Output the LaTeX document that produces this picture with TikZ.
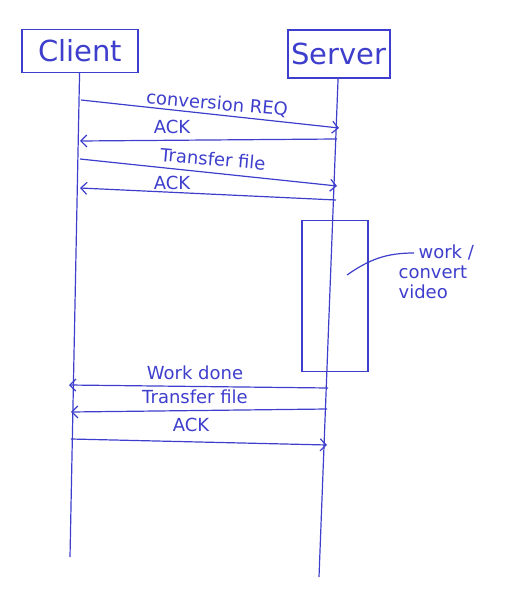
\documentclass[tikz,border=0pt]{standalone}
\usepackage{fontspec}
\setmainfont{DejaVu Sans}
\usetikzlibrary{arrows.meta}
\definecolor{pen}{RGB}{62,62,205}

\begin{document}
\begin{tikzpicture}[x=1pt, y=-1pt, line width=1.2pt, draw=pen, text=pen,
    actor/.style={draw, inner sep=0pt, font=\fontsize{29}{31}\selectfont},
    msg/.style={-{Straight Barb[length=6pt,width=12pt]}},
    lbl/.style={inner sep=0pt, font=\fontsize{18}{20}\selectfont}]
    \useasboundingbox (0,0) rectangle (510,601);
    \node[actor, minimum width=116, minimum height=43] (client) at (80,51) {Client};
    \node[actor, minimum width=102, minimum height=48] (server) at (339,54) {Server};
    \coordinate (cend) at (70,557);
    \coordinate (send) at (319,577);
    \draw (client) -- (cend);
    \draw (server) -- (send);
    \coordinate (c1) at (81,100);
    \coordinate (s1) at (339,128);
    \draw[msg] (c1) -- (s1);
    \node[lbl, rotate=-5] (req) at (217,104) {conversion REQ};
    \coordinate (s2) at (337,139);
    \coordinate (c2) at (80,141);
    \draw[msg] (s2) -- (c2);
    \node[lbl] (ack1) at (172,127) {ACK};
    \coordinate (c3) at (80,159);
    \coordinate (s3) at (337,186);
    \draw[msg] (c3) -- (s3);
    \node[lbl, rotate=-5] (tf1) at (213,159) {Transfer file};
    \coordinate (s4) at (336,200);
    \coordinate (c4) at (80,188);
    \draw[msg] (s4) -- (c4);
    \node[lbl] (ack2) at (172,183) {ACK};
    \node[draw, minimum width=66, minimum height=151] (work) at (335,296) {};
    \coordinate (wk) at (347,275);
    \coordinate (nt) at (414,253);
    \draw (wk) to[out=35,in=180] (nt);
    \node[lbl, anchor=north west, align=left] (note) at (398,244)
        {\hspace*{20pt}work /\\convert\\video};
    \coordinate (s5) at (328,388);
    \coordinate (c5) at (69,385);
    \draw[msg] (s5) -- (c5);
    \node[lbl] (done) at (195,373) {Work done};
    \coordinate (s6) at (327,409);
    \coordinate (c6) at (71,412);
    \draw[msg] (s6) -- (c6);
    \node[lbl] (tf2) at (195,397) {Transfer file};
    \coordinate (c7) at (71,439);
    \coordinate (s7) at (327,445);
    \draw[msg] (c7) -- (s7);
    \node[lbl] (ack3) at (191,425) {ACK};
\end{tikzpicture}
\end{document}
